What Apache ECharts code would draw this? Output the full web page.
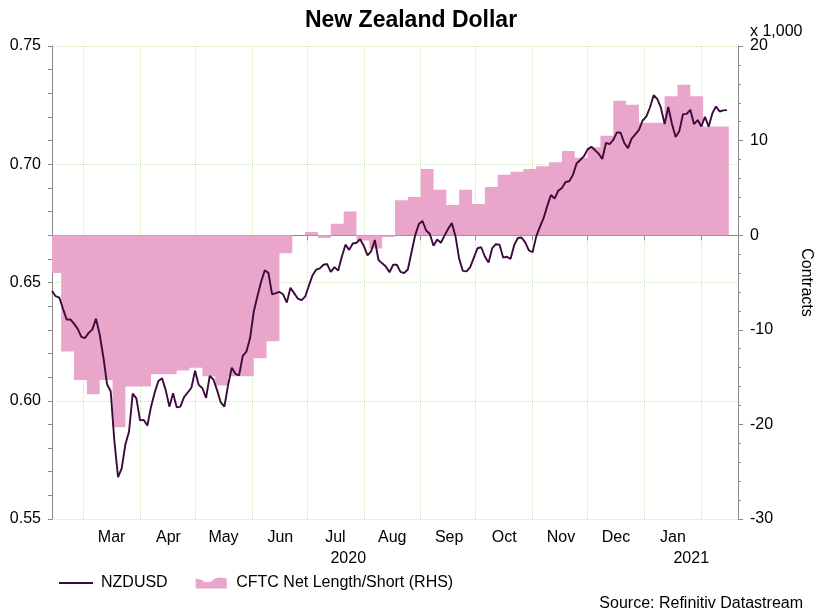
<!DOCTYPE html>
<html>
<head>
<meta charset="utf-8">
<title>New Zealand Dollar</title>
<script src="https://cdn.jsdelivr.net/npm/echarts@6/dist/echarts.min.js"></script>
<style>
  html, body { margin: 0; padding: 0; background: #fff; }
  #main { width: 822px; height: 609px; }
</style>
</head>
<body>
<div id="main"></div>
<script>
var DAY = 24 * 3600 * 1000;
var FONT = '"Liberation Sans", Arial, sans-serif';
var monthNames = ['Jan', 'Feb', 'Mar', 'Apr', 'May', 'Jun', 'Jul', 'Aug', 'Sep', 'Oct', 'Nov', 'Dec'];
var yearLabels = ['2020', '2021'];

// NZDUSD spot, one reading every 2 days from 13 Feb 2020
var nzdStart = [2020, 1, 13];
var nzdStepDays = 2;
var nzdValues = [
  0.6464, 0.6442, 0.6436, 0.6389, 0.6343, 0.6344, 0.6326, 0.6304, 0.6270, 0.6265,
  0.6287, 0.6302, 0.6347, 0.6280, 0.6185, 0.6070, 0.6040, 0.5830, 0.5677, 0.5714,
  0.5815, 0.5870, 0.6030, 0.6010, 0.5917, 0.5919, 0.5895, 0.5975, 0.6035, 0.6083,
  0.6095, 0.6045, 0.5975, 0.6032, 0.5972, 0.5975, 0.6015, 0.6035, 0.6055, 0.6127,
  0.6067, 0.6053, 0.6012, 0.6105, 0.6090, 0.6045, 0.5993, 0.5975, 0.6066, 0.6140,
  0.6114, 0.6107, 0.6190, 0.6208, 0.6265, 0.6377, 0.6442, 0.6503, 0.6552, 0.6540,
  0.6450, 0.6455, 0.6460, 0.6450, 0.6415, 0.6478, 0.6455, 0.6432, 0.6425, 0.6440,
  0.6485, 0.6530, 0.6554, 0.6560, 0.6575, 0.6578, 0.6545, 0.6565, 0.6550, 0.6609,
  0.6660, 0.6638, 0.6665, 0.6668, 0.6683, 0.6655, 0.6615, 0.6632, 0.6680, 0.6595,
  0.6581, 0.6568, 0.6543, 0.6575, 0.6575, 0.6545, 0.6540, 0.6555, 0.6628, 0.6700,
  0.6747, 0.6760, 0.6720, 0.6705, 0.6655, 0.6682, 0.6668, 0.6698, 0.6727, 0.6752,
  0.6695, 0.6600, 0.6549, 0.6547, 0.6565, 0.6605, 0.6645, 0.6649, 0.6610, 0.6584,
  0.6645, 0.6662, 0.6660, 0.6605, 0.6609, 0.6600, 0.6659, 0.6688, 0.6690, 0.6670,
  0.6636, 0.6628, 0.6695, 0.6735, 0.6772, 0.6823, 0.6870, 0.6855, 0.6888, 0.6900,
  0.6925, 0.6928, 0.6955, 0.7003, 0.7018, 0.7034, 0.7063, 0.7074, 0.7060, 0.7045,
  0.7022, 0.7090, 0.7085, 0.7103, 0.7135, 0.7133, 0.7090, 0.7068, 0.7108, 0.7126,
  0.7145, 0.7185, 0.7201, 0.7240, 0.7292, 0.7276, 0.7238, 0.7170, 0.7242, 0.7170,
  0.7115, 0.7140, 0.7212, 0.7213, 0.7230, 0.7170, 0.7187, 0.7160, 0.7200, 0.7159,
  0.7215, 0.7244, 0.7223, 0.7228, 0.7229
];

// CFTC net length/short, thousands of contracts, weekly from 11 Feb 2020
var cftcStart = [2020, 1, 11];
var cftcStepDays = 7;
var cftcValues = [
  -4.0, -12.3, -15.3, -16.8, -15.3, -20.3, -16.0, -16.0, -14.7, -14.7,
  -14.3, -14.0, -14.9, -15.9, -14.9, -14.9, -13.0, -11.2, -1.9, 0,
  0.35, -0.3, 1.2, 2.5, -0.55, -1.4, -0.2, 3.7, 4.05, 7.0,
  4.8, 3.2, 4.8, 3.3, 5.1, 6.4, 6.7, 7.0, 7.3, 7.7,
  8.9, 8.2, 9.3, 10.5, 14.2, 13.8, 11.9, 11.9, 14.7, 15.9,
  14.7, 11.5, 11.5, 11.5
];

var axisStart = new Date(2020, 1, 13).getTime();
var axisEnd = new Date(2021, 1, 21).getTime();
var yearStart = new Date(2021, 0, 1).getTime();

function toSeries(start, step, values) {
  return values.map(function (v, i) {
    return [new Date(start[0], start[1], start[2] + i * step).getTime(), v];
  });
}

var chartDom = document.getElementById('main');
var myChart = echarts.init(chartDom);
var option;

var grey = '#8a8a8a';
var gridColor = '#d0e0c2';
var pink = '#eaa5cb';

option = {
  animation: false,
  textStyle: { fontFamily: FONT },
  title: [
    {
      text: 'New Zealand Dollar',
      left: 'center',
      top: 4,
      textStyle: { fontSize: 23, fontWeight: 'bold', color: '#000', fontFamily: FONT }
    },
    {
      text: 'x 1,000',
      left: 745,
      top: 19,
      textStyle: { fontSize: 16, fontWeight: 'normal', color: '#000', fontFamily: FONT }
    },
    {
      text: 'Source: Refinitiv Datastream',
      right: 14,
      top: 591,
      textStyle: { fontSize: 16, fontWeight: 'normal', color: '#000', fontFamily: FONT }
    }
  ],
  legend: {
    left: 53,
    top: 570,
    itemWidth: 34,
    itemHeight: 11,
    itemGap: 28,
    selectedMode: false,
    textStyle: { fontSize: 16, color: '#000', fontFamily: FONT, padding: [0, 0, 0, 3] },
    data: [
      { name: 'NZDUSD', itemStyle: { opacity: 0 } },
      {
        name: 'CFTC Net Length/Short (RHS)',
        icon: 'path://M0,1 L5,2 L10,5 L16,5 L21,1 L26,0 L34,1 L34,12 L0,12 Z'
      }
    ]
  },
  grid: { left: 52, right: 83, top: 46, bottom: 90 },
  xAxis: [
    {
      type: 'time',
      position: 'bottom',
      min: axisStart,
      max: axisEnd,
      splitNumber: 12,
      minInterval: 28 * DAY,
      maxInterval: 31 * DAY,
      axisLine: { show: true, lineStyle: { color: grey } },
      axisTick: { show: true, length: 5, lineStyle: { color: grey } },
      axisLabel: { show: false },
      splitLine: { show: true, lineStyle: { type: 'dotted', color: gridColor } }
    },
    {
      // month names sit in the middle of each month
      type: 'time',
      position: 'bottom',
      min: axisStart - 15.5 * DAY,
      max: axisEnd - 15.5 * DAY,
      splitNumber: 12,
      minInterval: 28 * DAY,
      maxInterval: 31 * DAY,
      axisLine: { show: false },
      axisTick: { show: false },
      splitLine: { show: false },
      axisLabel: {
        margin: 11,
        fontSize: 16,
        color: '#000',
        fontFamily: FONT,
        hideOverlap: false,
        formatter: function (val) {
          var d = new Date(val);
          if (d.getDate() !== 1 || d.getMonth() === 1) return '';
          return monthNames[d.getMonth()];
        }
      }
    }
  ],
  yAxis: [
    {
      type: 'value',
      min: 0.55,
      max: 0.75,
      interval: 0.05,
      axisLine: { show: true, lineStyle: { color: grey } },
      axisTick: { show: true, length: 4, lineStyle: { color: grey } },
      minorTick: { show: true, splitNumber: 5, length: 4, lineStyle: { color: grey } },
      axisLabel: {
        margin: 11,
        fontSize: 16,
        color: '#000',
        fontFamily: FONT,
        formatter: function (v) { return v.toFixed(2); }
      },
      splitLine: { show: true, lineStyle: { type: 'dotted', color: gridColor } }
    },
    {
      type: 'value',
      position: 'right',
      min: -30,
      max: 20,
      interval: 10,
      name: 'Contracts',
      nameLocation: 'middle',
      nameRotate: -90,
      nameGap: 60,
      nameTextStyle: { fontSize: 16, color: '#000', fontFamily: FONT },
      axisLine: { show: true, lineStyle: { color: grey } },
      axisTick: { show: true, length: 5, lineStyle: { color: grey } },
      minorTick: { show: true, splitNumber: 5, length: 3, lineStyle: { color: grey } },
      axisLabel: { margin: 12, fontSize: 16, color: '#000', fontFamily: FONT },
      splitLine: { show: false }
    }
  ],
  series: [
    {
      name: 'CFTC Net Length/Short (RHS)',
      type: 'line',
      xAxisIndex: 0,
      yAxisIndex: 1,
      step: 'end',
      symbol: 'none',
      color: pink,
      lineStyle: { width: 0, color: pink },
      areaStyle: { color: pink, opacity: 1 },
      z: 1,
      data: toSeries(cftcStart, cftcStepDays, cftcValues)
    },
    {
      name: 'NZDUSD',
      type: 'line',
      xAxisIndex: 0,
      yAxisIndex: 0,
      symbol: 'none',
      color: '#3a0b3c',
      lineStyle: { width: 1.9, color: '#3a0b3c' },
      z: 3,
      data: toSeries(nzdStart, nzdStepDays, nzdValues)
    }
  ]
};

option && myChart.setOption(option);

// year captions centred under the part of the axis each year covers
var px0 = myChart.convertToPixel({ xAxisIndex: 0 }, axisStart);
var pxYear = myChart.convertToPixel({ xAxisIndex: 0 }, yearStart);
var px1 = myChart.convertToPixel({ xAxisIndex: 0 }, axisEnd);
var yearCentres = [(px0 + pxYear) / 2, (pxYear + px1) / 2];

myChart.setOption({
  graphic: yearLabels.map(function (label, i) {
    return {
      type: 'text',
      x: yearCentres[i],
      y: 559,
      style: {
        text: label,
        fontSize: 16,
        fontFamily: FONT,
        fill: '#000',
        align: 'center',
        verticalAlign: 'middle'
      }
    };
  })
});
</script>
</body>
</html>
